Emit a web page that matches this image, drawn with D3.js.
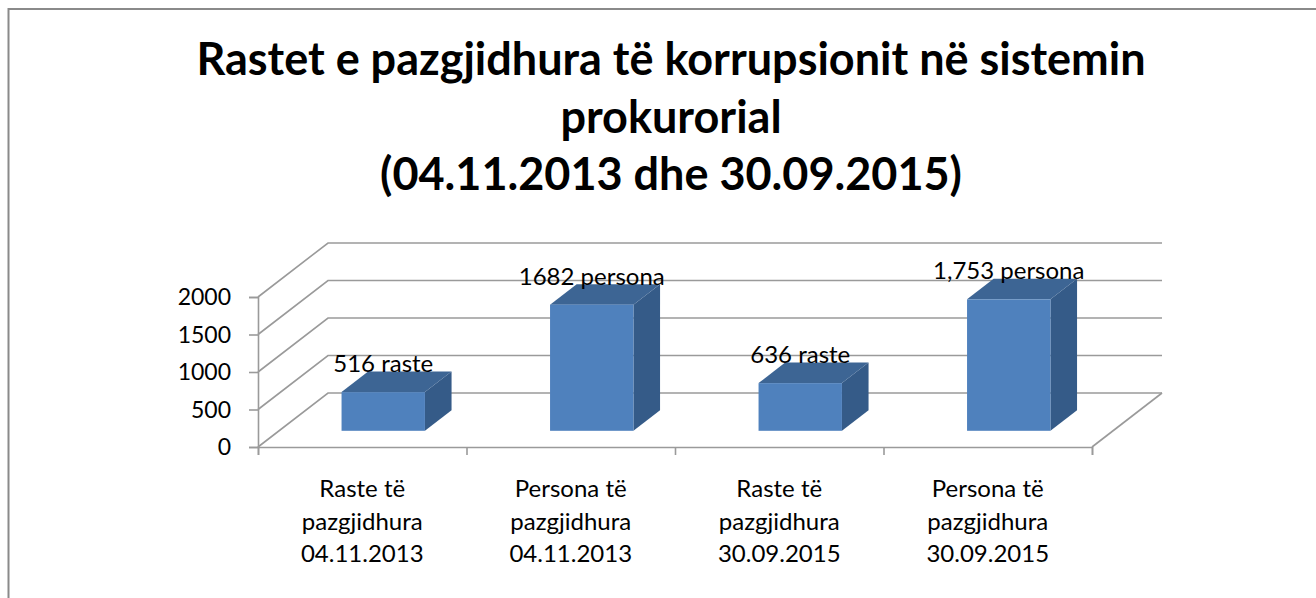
<!DOCTYPE html>
<html>
<head>
<meta charset="utf-8">
<script src="https://cdn.jsdelivr.net/npm/d3@7"></script>
<style>
  html, body { margin: 0; padding: 0; background: #fff; }
  svg { display: block; font-family: Lato, "Open Sans", sans-serif; }
</style>
</head>
<body>
<div id="chart"></div>
<script>
// =============================
// DATA
// =============================
const categories = [
  ["Raste të", "pazgjidhura", "04.11.2013"],
  ["Persona të", "pazgjidhura", "04.11.2013"],
  ["Raste të", "pazgjidhura", "30.09.2015"],
  ["Persona të", "pazgjidhura", "30.09.2015"]
];
const values = [516, 1682, 636, 1753];
const valueLabels = ["516 raste", "1682 persona", "636 raste", "1,753 persona"];
const yTicks = [0, 500, 1000, 1500, 2000];
const titleLines = [
  "Rastet e pazgjidhura të korrupsionit në sistemin",
  "prokurorial",
  "(04.11.2013 dhe 30.09.2015)"
];

// =============================
// SETUP
// =============================
const W = 1316, H = 598;
const svg = d3.select("#chart").append("svg")
  .attr("width", W).attr("height", H);

// outer frame (right and bottom sides run off the picture)
svg.append("rect")
  .attr("x", 8.5).attr("y", 9)
  .attr("width", 1400).attr("height", 700)
  .attr("fill", "none")
  .attr("stroke", "#8a8a8a")
  .attr("stroke-width", 2);

// title
svg.append("g").selectAll("text")
  .data(titleLines)
  .join("text")
  .attr("x", 671)
  .attr("y", (d, i) => 75 + i * 57.5)
  .attr("text-anchor", "middle")
  .attr("font-weight", "bold")
  .attr("font-size", 45)
  .attr("fill", "#000")
  .text(d => d);

// =============================
// 3D PLOT AREA
// =============================
const x0 = 258, x1 = 1092;       // front floor edge
const depth = { dx: 70, dy: -54 }; // full depth of the floor
const x = d3.scaleBand().domain(d3.range(categories.length)).range([x0, x1]).padding(0);
const y = d3.scaleLinear().domain([0, 2000]).range([447, 297]);

const gridColor = "#9a9a9a";
const grid = svg.append("g")
  .attr("stroke", gridColor)
  .attr("stroke-width", 1.6)
  .attr("fill", "none");

// back wall gridlines + left wall diagonals
yTicks.forEach(t => {
  grid.append("polyline")
    .attr("points", [
      [x0, y(t)],
      [x0 + depth.dx, y(t) + depth.dy],
      [x1 + depth.dx, y(t) + depth.dy]
    ].join(" "));
});
// floor right edge
grid.append("line")
  .attr("x1", x1).attr("y1", y(0))
  .attr("x2", x1 + depth.dx).attr("y2", y(0) + depth.dy);

// y axis
const yAxis = svg.append("g")
  .attr("transform", `translate(${x0},0)`)
  .call(d3.axisLeft(y).tickValues(yTicks).tickSize(9).tickPadding(18).tickFormat(d3.format("d")));
yAxis.select(".domain").attr("stroke", gridColor).attr("stroke-width", 1.6);
yAxis.selectAll(".tick line").attr("stroke", gridColor).attr("stroke-width", 1.6);
yAxis.selectAll(".tick text")
  .attr("font-size", 23)
  .attr("font-family", "Lato, sans-serif")
  .attr("fill", "#000")
  .attr("dy", "0.34em");

// x axis (floor front edge)
const xAxis = svg.append("g")
  .attr("transform", `translate(0,${y(0)})`)
  .call(d3.axisBottom(d3.scaleLinear().domain([0, categories.length]).range([x0, x1]))
    .tickValues(d3.range(categories.length + 1)).tickSize(8).tickFormat(""));
xAxis.select(".domain").attr("stroke", gridColor).attr("stroke-width", 1.6);
xAxis.selectAll(".tick line").attr("stroke", gridColor).attr("stroke-width", 1.6);

// category labels
const catG = svg.append("g").selectAll("text")
  .data(categories)
  .join("text")
  .attr("x", (d, i) => x(i) + x.bandwidth() / 2)
  .attr("text-anchor", "middle")
  .attr("font-size", 24)
  .attr("fill", "#000");
catG.selectAll("tspan")
  .data(d => d)
  .join("tspan")
  .attr("x", function () { return d3.select(this.parentNode).attr("x"); })
  .attr("y", (d, i) => 497 + i * 32.5)
  .text(d => d);

// =============================
// BARS
// =============================
const f0 = 0.3, f1 = 0.68;   // bar front/back position in depth
const bw = x.bandwidth() * 0.4;
const bars = svg.append("g").selectAll("g")
  .data(values)
  .join("g");

function px(i, f) { return x(i) + (x.bandwidth() - bw) / 2 + depth.dx * f; }
function py(v, f) { return y(v) + depth.dy * f; }

// side face
bars.append("polygon")
  .attr("fill", "#355b88")
  .attr("points", (v, i) => [
    [px(i, f0) + bw, py(0, f0)],
    [px(i, f1) + bw, py(0, f1)],
    [px(i, f1) + bw, py(v, f1)],
    [px(i, f0) + bw, py(v, f0)]
  ].join(" "));
// top face
bars.append("polygon")
  .attr("fill", "#3d6594")
  .attr("points", (v, i) => [
    [px(i, f0), py(v, f0)],
    [px(i, f0) + bw, py(v, f0)],
    [px(i, f1) + bw, py(v, f1)],
    [px(i, f1), py(v, f1)]
  ].join(" "));
// front face
bars.append("rect")
  .attr("fill", "#4f81bd")
  .attr("x", (v, i) => px(i, f0))
  .attr("y", v => py(v, f0))
  .attr("width", bw)
  .attr("height", v => py(0, f0) - py(v, f0));

// value labels
svg.append("g").selectAll("text")
  .data(values)
  .join("text")
  .attr("x", (v, i) => px(i, f0) + bw / 2)
  .attr("y", v => py(v, f0) - 20)
  .attr("text-anchor", "middle")
  .attr("font-size", 24)
  .attr("fill", "#000")
  .text((v, i) => valueLabels[i]);
</script>
</body>
</html>
